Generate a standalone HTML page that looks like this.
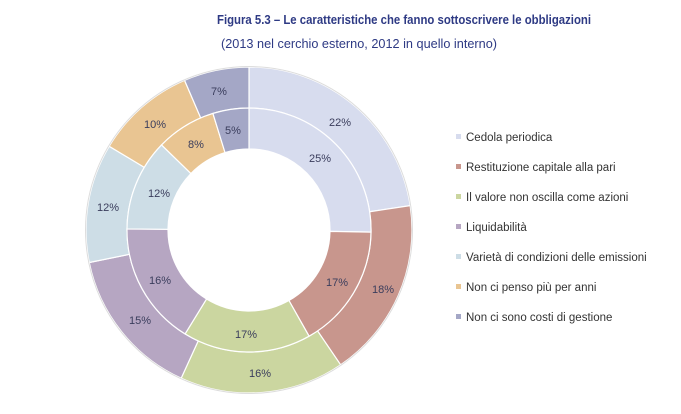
<!DOCTYPE html>
<html><head><meta charset="utf-8"><style>
body{margin:0;background:#fff;width:681px;height:409px;overflow:hidden;font-family:"Liberation Sans",sans-serif}
</style></head><body>
<svg id="s" width="681" height="409" xmlns="http://www.w3.org/2000/svg" font-family="Liberation Sans, sans-serif">
<text x="217" y="24" font-size="13" font-weight="bold" fill="#2e3a84" textLength="374" lengthAdjust="spacingAndGlyphs">Figura 5.3 – Le caratteristiche che fanno sottoscrivere le obbligazioni</text>
<text x="221" y="48" font-size="12.5" fill="#2e3a84" textLength="276" lengthAdjust="spacingAndGlyphs">(2013 nel cerchio esterno, 2012 in quello interno)</text>
<g id="rings"></g>
<g font-size="11" fill="#3a3d5c" text-anchor="middle">
<text x="340" y="126">22%</text><text x="383" y="293">18%</text><text x="260" y="377">16%</text>
<text x="140" y="324">15%</text><text x="108" y="211">12%</text><text x="155" y="128">10%</text><text x="219" y="95">7%</text>
<text x="320" y="162">25%</text><text x="337" y="286">17%</text><text x="246" y="338">17%</text>
<text x="160" y="284">16%</text><text x="159" y="197">12%</text><text x="196" y="148">8%</text><text x="233" y="134">5%</text>
</g>
<g font-size="11.5" fill="#333">
<rect x="456" y="134" width="5" height="5" fill="#d7dcee"/><text x="466" y="141">Cedola periodica</text>
<rect x="456" y="164" width="5" height="5" fill="#c8968d"/><text x="466" y="171">Restituzione capitale alla pari</text>
<rect x="456" y="194" width="5" height="5" fill="#cbd6a0"/><text x="466" y="201">Il valore non oscilla come azioni</text>
<rect x="456" y="224" width="5" height="5" fill="#b6a6c2"/><text x="466" y="231">Liquidabilità</text>
<rect x="456" y="254" width="5" height="5" fill="#cddde6"/><text x="466" y="261">Varietà di condizioni delle emissioni</text>
<rect x="456" y="284" width="5" height="5" fill="#e9c592"/><text x="466" y="291">Non ci penso più per anni</text>
<rect x="456" y="314" width="5" height="5" fill="#a4a7c6"/><text x="466" y="321">Non ci sono costi di gestione</text>
</g>
</svg>
<script>
var cols=["#d7dcee","#c8968d","#cbd6a0","#b6a6c2","#cddde6","#e9c592","#a4a7c6"];
var outer=[0,81.4,145.8,204.6,258.5,300.9,336.7,360];
var inner=[0,91,150.5,211.6,270.5,314.2,342.8,360];
var cx=249,cy=230,g=document.getElementById("rings"),h="";
function pt(r,a){a=a*Math.PI/180;return (cx+r*Math.sin(a)).toFixed(2)+","+(cy-r*Math.cos(a)).toFixed(2);}
function ring(b,r0,r1){for(var i=0;i<7;i++){var a0=b[i],a1=b[i+1],l=(a1-a0)>180?1:0;
h+='<path d="M'+pt(r1,a0)+' A'+r1+','+r1+' 0 '+l+' 1 '+pt(r1,a1)+' L'+pt(r0,a1)+' A'+r0+','+r0+' 0 '+l+' 0 '+pt(r0,a0)+' Z" fill="'+cols[i]+'" stroke="#fff" stroke-width="1.2"/>';}}
ring(outer,122,163);ring(inner,81,122);
h+='<circle cx="249" cy="230" r="163.5" fill="none" stroke="#ddd" stroke-width="1"/>';
g.innerHTML=h;
</script>
</body></html>
